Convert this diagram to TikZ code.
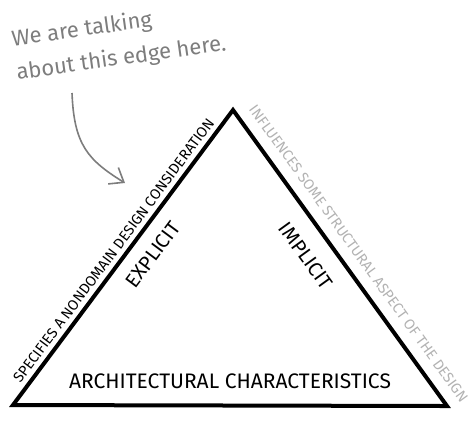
\documentclass[tikz,border=0pt]{standalone}
\usepackage{fontspec}
\setmainfont{Fira Sans}
\usetikzlibrary{arrows.meta,positioning}
\definecolor{notegray}{RGB}{125,125,125}
\definecolor{palegray}{RGB}{178,178,178}
\tikzset{
  edgeline/.style={line width=2pt, line join=miter, black},
  sidetext/.style={font=\fontsize{7.3}{8}\selectfont, inner sep=1pt},
  kindtext/.style={font=\fontsize{10}{11}\selectfont},
  basetext/.style={font=\fontsize{10.5}{12}\selectfont},
  notetext/.style={font=\fontsize{11}{17}\selectfont, text=notegray, align=left},
  notearrow/.style={-{Straight Barb[length=2.2mm,width=3.4mm]}, thick, notegray},
}
\begin{document}
\begin{tikzpicture}[x=0.5pt,y=-0.5pt]
\useasboundingbox (0,0) rectangle (476,420);
\coordinate (top) at (233,110);
\coordinate (left) at (13,405);
\coordinate (right) at (447,406);
\draw[edgeline] (left) -- (top) -- (right) -- cycle;
% labels along the edges
\path (left) -- (top)
  node[sidetext, pos=0.5, sloped, above=2pt] (nondomain) {SPECIFIES A NONDOMAIN DESIGN CONSIDERATION}
  node[kindtext, pos=0.555, sloped, below=4pt] (explicit) {EXPLICIT};
\path (top) -- (right)
  node[sidetext, text=palegray, pos=0.52, sloped, above=5pt] (structural) {INFLUENCES SOME STRUCTURAL ASPECT OF THE DESIGN}
  node[kindtext, pos=0.44, sloped, below=6pt] (implicit) {IMPLICIT};
\path (left) -- (right)
  node[basetext, midway, above=5pt] (archchar) {ARCHITECTURAL CHARACTERISTICS};
% the note
\node[notetext, rotate=8] (note) at (119,42) {We are talking\\about this edge here.};
\coordinate (notetail) at (72,93);
\coordinate (notetip) at (125,183);
\draw[notearrow] (notetail) .. controls (74,145) and (88,160) .. (notetip);
\end{tikzpicture}
\end{document}
